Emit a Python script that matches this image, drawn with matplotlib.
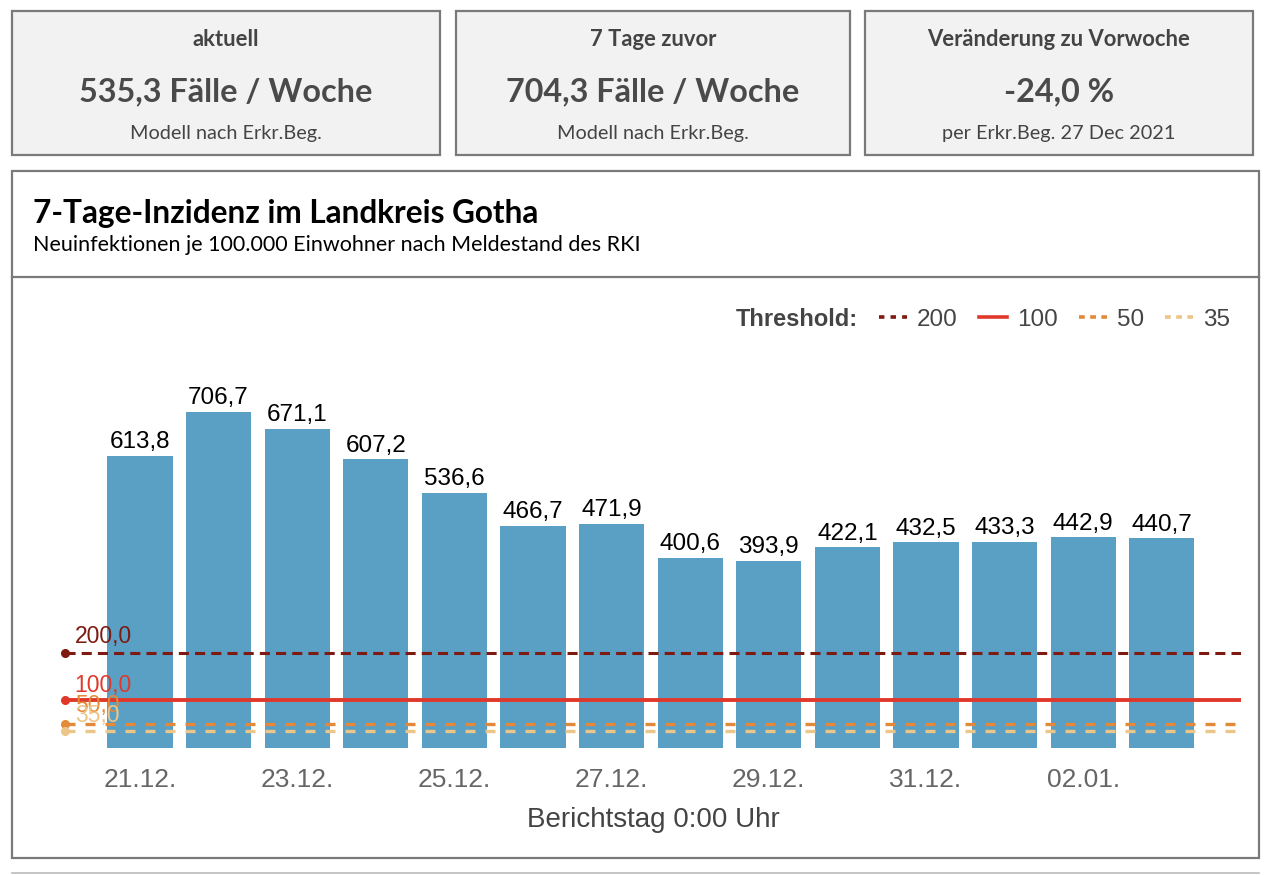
import matplotlib
matplotlib.use("Agg")
import matplotlib.pyplot as plt
from matplotlib.patches import Rectangle
from matplotlib.lines import Line2D

# ---- data ----
dates = ["21.12.", "22.12.", "23.12.", "24.12.", "25.12.", "26.12.", "27.12.",
         "28.12.", "29.12.", "30.12.", "31.12.", "01.01.", "02.01.", "03.01."]
values = [613.8, 706.7, 671.1, 607.2, 536.6, 466.7, 471.9,
          400.6, 393.9, 422.1, 432.5, 433.3, 442.9, 440.7]
thresholds = [200, 100, 50, 35]
threshold_labels = ["200", "100", "50", "35"]
threshold_colors = ["#7d1a12", "#e0392c", "#e38a39", "#ecc689"]
card_titles = ["aktuell", "7 Tage zuvor", "Veränderung zu Vorwoche"]
card_values = ["535,3 Fälle / Woche", "704,3 Fälle / Woche", "-24,0 %"]
card_notes = ["Modell nach Erkr.Beg.", "Modell nach Erkr.Beg.", "per Erkr.Beg. 27 Dec 2021"]

# styles
line_styles = [(0, (3.3, 2.0)), "-", (0, (3.0, 3.0)), (0, (3.0, 3.0))]
line_widths = [2.2, 2.8, 2.4, 2.4]
legend_styles = [(0, (1.5, 1.7)), "-", (0, (1.6, 1.5)), (0, (1.6, 1.5))]
label_dy = [7, 6, 8.5, 6.5]

W, H = 1268, 875
fig = plt.figure(figsize=(W / 100, H / 100), dpi=100)
fig.patch.set_facecolor("white")

def fx(x):
    return x / W

def fy(y):
    return 1 - y / H

def rect(x0, y0, x1, y1, fc, ec, lw=1.6):
    r = Rectangle((fx(x0), fy(y1)), fx(x1) - fx(x0), fy(y0) - fy(y1),
                  transform=fig.transFigure, facecolor=fc, edgecolor=ec, linewidth=lw, zorder=0)
    fig.add_artist(r)

# ---- cards ----
cards = [(12, 440), (456, 850), (865, 1253)]
for (x0, x1), t, v, n in zip(cards, card_titles, card_values, card_notes):
    rect(x0, 11, x1, 155, "#f2f2f2", "#7a7a7a")
    cx = fx((x0 + x1) / 2)
    fig.text(cx, fy(39), t, ha="center", va="center", fontsize=15.8, fontweight="bold",
             family="Lato", color="#444444")
    fig.text(cx, fy(92), v, ha="center", va="center", fontsize=23.3, fontweight="bold",
             family="Lato", color="#4a4a4a")
    fig.text(cx, fy(133), n, ha="center", va="center", fontsize=14.3,
             family="Lato", color="#444444")

# ---- main panel ----
rect(12, 171, 1259, 858, "white", "#7a7a7a")
fig.add_artist(Line2D([fx(12), fx(1259)], [fy(277), fy(277)], transform=fig.transFigure,
                      color="#7a7a7a", lw=1.6))
fig.add_artist(Line2D([fx(12), fx(1259)], [fy(873), fy(873)], transform=fig.transFigure,
                      color="#bbbbbb", lw=1.2))
fig.text(fx(33), fy(213), "7-Tage-Inzidenz im Landkreis Gotha", ha="left", va="center",
         fontsize=22.7, fontweight="bold", family="Lato", color="black")
fig.text(fx(33), fy(245), "Neuinfektionen je 100.000 Einwohner nach Meldestand des RKI",
         ha="left", va="center", fontsize=15.5, family="Lato", color="black")

# ---- axes ----
ax_left, ax_right, ax_bottom, ax_top = 65, 1241, 748, 330
ax = fig.add_axes([fx(ax_left), fy(ax_bottom), fx(ax_right) - fx(ax_left), fy(ax_top) - fy(ax_bottom)])
ax.set_facecolor("none")
scale = 336 / 706.7
ax.set_ylim(0, (ax_bottom - ax_top) / scale)
c0, step = 140, 78.6
ax.set_xlim((ax_left - c0) / step, (ax_right - c0) / step)

xs = list(range(len(values)))
ax.bar(xs, values, width=0.83, color="#5a9fc4", zorder=2)
for x, v in zip(xs, values):
    ax.annotate(f"{v:.1f}".replace(".", ","), (x, v), xytext=(0, 2), textcoords="offset points",
                ha="center", va="bottom", fontsize=17.5, family="Liberation Sans", color="black")

x_start = ax.get_xlim()[0]
for th, col, ls, lw, dy in zip(thresholds, threshold_colors, line_styles, line_widths, label_dy):
    ax.axhline(th, color=col, linestyle=ls, linewidth=lw, zorder=3)
    ax.plot([x_start], [th], "o", color=col, markersize=5.5, zorder=4, clip_on=False)
    ax.annotate(f"{th:.1f}".replace(".", ","), (x_start, th), xytext=(7, dy), textcoords="offset points",
                ha="left", va="baseline", fontsize=16.5, family="Liberation Sans", color=col, zorder=5)

ax.set_xticks(xs[::2])
ax.set_xticklabels(dates[::2], fontsize=19, family="Liberation Sans", color="#666666")
ax.tick_params(axis="x", length=0, pad=14.5)
ax.set_yticks([])
for s in ax.spines.values():
    s.set_visible(False)
ax.set_xlabel("Berichtstag 0:00 Uhr", fontsize=20, family="Liberation Sans", color="#444444", labelpad=11)

# ---- legend (manual) ----
leg_y = fy(317)
fig.text(fx(858), leg_y, "Threshold:", ha="right", va="center_baseline", fontsize=17,
         fontweight="bold", family="Liberation Sans", color="#444444")
handle_x = [879, 979, 1079, 1165]
for hx, lab, col, ls in zip(handle_x, threshold_labels, threshold_colors, legend_styles):
    fig.add_artist(Line2D([fx(hx), fx(hx + 28)], [leg_y, leg_y], transform=fig.transFigure,
                          color=col, linestyle=ls, linewidth=2.6))
    fig.text(fx(hx + 38), leg_y, lab, ha="left", va="center_baseline", fontsize=17.5,
             family="Liberation Sans", color="#444444")

fig.savefig("out.png", dpi=100, facecolor="white")
